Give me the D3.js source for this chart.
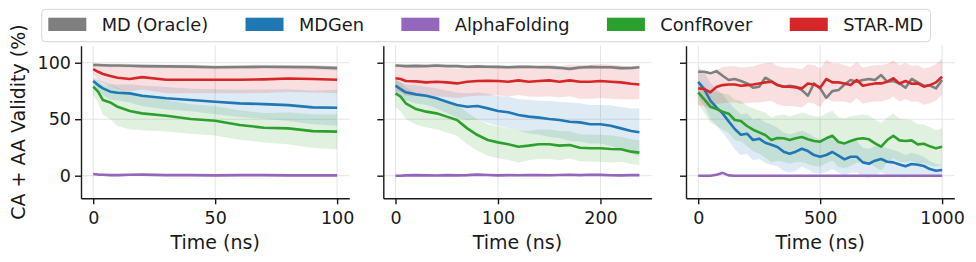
<!DOCTYPE html>
<html>
<head>
<meta charset="utf-8">
<script src="https://cdn.jsdelivr.net/npm/d3@7"></script>
<style>
  body { margin: 0; background: #fff; }
  svg { display: block; font-family: "DejaVu Sans", sans-serif; }
</style>
</head>
<body>
<svg id="chart" width="976" height="262"></svg>
<script>
'use strict';

var methods = ["MD (Oracle)", "MDGen", "AlphaFolding", "ConfRover", "STAR-MD"];
var colors  = ["#7f7f7f", "#1f77b4", "#9467bd", "#2ca02c", "#d62728"];

var yTicks = [0, 50, 100];

// ---- panel 1: 0-100 ns
var time1 = [0, 2, 4, 7, 10, 15, 20, 30, 40, 50, 60, 70, 80, 90, 100];
var xTicks1 = [0, 50, 100];
var md1     = [98, 98, 97.8, 97.6, 97.5, 97.3, 97, 96.8, 96.6, 96, 96.2, 96.4, 96.2, 96, 95.2];
var mdgen1  = [83.8, 80.2, 77.3, 74.4, 73.5, 72.9, 70.8, 68.5, 67, 65.5, 64, 63.4, 62.5, 60.5, 60.2];
var alpha1  = [1.5, 1, 0.8, 0.5, 0.5, 0.8, 1, 0.5, 0.5, 0.3, 0.5, 0.5, 0.3, 0.3, 0.3];
var conf1   = [78.8, 74.4, 67, 64.9, 61, 57.2, 55.2, 53.1, 50.2, 48.7, 44.9, 42.5, 41.9, 39.5, 39];
var star1   = [94.4, 92, 90, 88.2, 86.7, 85.6, 87.3, 85, 85, 85, 85, 85.3, 86, 85.6, 85];
var mdSd1    = [1.5, 1.5, 1.5, 1.5, 1.5, 1.6, 1.6, 1.7, 1.8, 1.8, 1.8, 1.8, 1.9, 1.9, 2];
var mdgenSd1 = [4, 5, 6, 7, 7, 8, 9, 10, 10, 11, 12, 13, 14, 15, 16];
var alphaSd1 = [1, 1, 1, 1, 1, 1, 1, 1, 1, 1, 1, 1, 1, 1, 1];
var confSd1  = [7, 10, 13, 15, 17, 16, 15, 14, 13, 13, 13, 13, 14, 15, 15.5];
var starSd1  = [5, 7, 8, 9, 10, 11, 11, 12, 12, 12, 12, 12, 12, 12, 12];

// ---- panel 2: 0-238 ns
var time2 = [0, 5, 10, 20, 30, 40, 50, 60, 70, 80, 90, 100, 110, 120, 130, 140, 150, 160, 170, 180, 190, 200, 210, 220, 230, 238];
var xTicks2 = [0, 100, 200];
var md2    = [97.5, 97.3, 97, 97.2, 97, 97.5, 97, 97, 96.5, 96.8, 96.5, 96.3, 96, 96.3, 96.5, 96, 96, 95.5, 94.6, 95.8, 96.3, 96, 96, 95.2, 95.3, 96];
var mdgen2 = [79.7, 76.7, 73.8, 72, 70.8, 68.5, 65.5, 62.6, 61.1, 61.7, 59.6, 57.3, 56.1, 53.7, 52.3, 51.4, 50.2, 49.3, 47.8, 47.2, 45.5, 45.5, 44.3, 41.9, 39.6, 38.4];
var alpha2 = [0, 0, 0.3, 0.5, 0.3, 0.2, 0.5, 0.3, 0.5, 1, 0.6, 0.3, 0.5, 0.4, 0.6, 0.5, 0.4, 0.6, 0.8, 0.5, 0.9, 0.7, 0.4, 0.3, 0.5, 0.5];
var conf2  = [72.9, 70, 64.1, 59, 56.7, 55.2, 52.3, 49.3, 41.9, 36, 31.6, 29.5, 27.8, 25.7, 26.6, 27.8, 27.8, 26.6, 27.2, 24.8, 24.3, 24.3, 23.7, 23.4, 21.3, 20.4];
var star2  = [86.2, 85.6, 83.8, 83.5, 82.6, 83.2, 82.6, 81.7, 83.2, 83.8, 84.1, 83.8, 83.2, 84.4, 83.2, 83.8, 84.4, 83.2, 84.4, 83.2, 83.2, 83.8, 83.2, 82.6, 81.4, 80.8];
var mdSd2    = [1.5, 1.5, 1.5, 1.5, 1.5, 1.5, 1.5, 1.5, 1.5, 1.5, 1.5, 1.5, 1.5, 1.5, 1.5, 1.5, 1.5, 1.5, 1.5, 1.5, 1.5, 1.5, 1.5, 1.5, 1.5, 1.5];
var mdgenSd2 = [5, 6, 7, 8, 8, 9, 10, 11, 12, 12, 13, 13, 14, 14, 15, 15, 16, 16, 17, 17, 17, 17, 18, 19, 20, 21];
var alphaSd2 = [1, 1, 1, 1, 1, 1, 1, 1, 1, 1, 1, 1, 1, 1, 1, 1, 1, 1, 1, 1, 1, 1, 1, 1, 1, 1];
var confSd2  = [12, 13, 14, 14, 14, 14, 14, 14, 14, 14, 14, 14, 14, 14, 13, 13, 13, 13, 12, 12, 12, 12, 12, 11, 11, 11];
var starSd2  = [12, 12, 13, 13, 13, 13, 13, 13, 13, 13, 13, 12.5, 13, 13, 13, 14, 14, 14, 14, 15, 15, 15, 15, 15, 14, 13];

// ---- panel 3: 0-1000 ns
var time3 = [0, 25, 50, 75, 100, 125, 150, 175, 200, 225, 250, 275, 300, 325, 350, 375, 400, 425, 450, 475, 500,
             525, 550, 575, 600, 625, 650, 675, 700, 725, 750, 775, 800, 825, 850, 875, 900, 925, 950, 975, 1000];
var xTicks3 = [0, 500, 1000];
var md3    = [92, 92, 90.6, 92.6, 88.5, 84.7, 85.6, 83.8, 81.7, 77.9, 78.8, 86.7, 83.8, 80.2, 78.8, 79.7, 78.8, 75.8, 70.8, 81.7, 77.3,
              69, 74.9, 75.8, 80.8, 84.7, 83.2, 84.7, 85.6, 84.7, 89.1, 83.2, 83.8, 81.7, 77.9, 85.6, 82.6, 79.7, 79.7, 77.3, 84.7];
var mdgen3 = [83, 76.4, 66.4, 60.5, 55.2, 48.1, 41.3, 36.3, 37.2, 31.6, 32.8, 29.2, 27.4, 25.4, 21.3, 19.5, 21.3, 23.9, 21.8, 18.3, 16.8,
              18.3, 21, 17.7, 14.5, 16.8, 16.8, 11.8, 10.6, 13.3, 14.8, 12.4, 11.8, 10, 8.3, 10.3, 9.7, 8.6, 5.9, 4.4, 5];
var alpha3 = [0, 0, 0, 0.8, 2.5, 0.3, 0, 0, 0, 0, 0, 0, 0, 0, 0, 0, 0, 0, 0, 0, 0,
              0, 0, 0, 0, 0, 0, 0, 0, 0, 0, 0, 0, 0, 0, 0, 0, 0, 0, 0, 0];
var conf3  = [73.8, 67.6, 61.1, 59, 56.7, 54.9, 49.3, 48.4, 44, 40.7, 38.4, 36, 31.6, 33.3, 33.1, 31.6, 33.1, 34.2, 32.2, 30.7, 30.1,
              33.1, 35.4, 29.8, 28.6, 30.7, 32.5, 33.1, 32.2, 28.6, 25.7, 31.6, 35.4, 31.3, 30.7, 31.3, 27.7, 28.3, 26, 24.2, 25.7];
var star3  = [77.3, 76.7, 73.8, 78.5, 80.2, 80.8, 80.8, 79.7, 80.2, 80.8, 81.7, 82.6, 83.2, 80.2, 78.8, 78.8, 78.2, 77.3, 81.7, 80.8, 77.9,
              85.6, 82.6, 82.6, 81.7, 80.2, 84.7, 79.7, 80.8, 81.7, 81.7, 83.2, 86.2, 81.7, 83.8, 81.4, 81.7, 78.8, 80.2, 82.6, 87.6];
var mdgenSd3 = [14, 15, 16, 16, 17, 17, 18, 18, 18, 18, 18, 18, 18, 17, 17, 17, 17, 16, 16, 16, 15,
                15, 15, 15, 14, 14, 14, 13, 13, 13, 12, 12, 11, 11, 10, 10, 9, 8, 7, 6, 5];
var confSd3  = [10, 12, 14, 15, 16, 17, 18, 18, 18, 19, 19, 20, 20, 20, 21, 21, 21, 22, 22, 22, 22,
                22, 22, 22, 22, 22, 21, 21, 21, 21, 21, 20, 20, 19, 19, 18, 18, 17, 17, 16, 16];
var starSd3  = [15, 15, 15, 15, 16, 16, 16, 16, 16, 16, 17, 17, 17, 17, 17, 17, 17, 17, 17, 17, 17,
                17, 17, 17, 16, 16, 16, 16, 16, 16, 16, 16, 16, 16, 16, 16, 16, 16, 16, 16, 16];

var panels = [
  { left: 81,    times: time1, xDomain: [-5, 105],     xTicks: xTicks1, yLabels: true,
    vals: [md1, mdgen1, alpha1, conf1, star1], sds: [mdSd1, mdgenSd1, alphaSd1, confSd1, starSd1] },
  { left: 383.3, times: time2, xDomain: [-11.9, 249.9], xTicks: xTicks2, yLabels: false,
    vals: [md2, mdgen2, alpha2, conf2, star2], sds: [mdSd2, mdgenSd2, alphaSd2, confSd2, starSd2] },
  { left: 686,   times: time3, xDomain: [-50, 1050],   xTicks: xTicks3, yLabels: false,
    vals: [md3, mdgen3, alpha3, conf3, star3], sds: [null, mdgenSd3, null, confSd3, starSd3] }
];

var svg = d3.select("#chart");
var axW = 268.3, axTop = 45.8, axBottom = 198.3;
var ink = "#1a1a1a";

var y = d3.scaleLinear().domain([-20, 115]).range([axBottom, axTop]);

panels.forEach(function(p) {
  var x = d3.scaleLinear().domain(p.xDomain).range([p.left, p.left + axW]);
  var g = svg.append("g");

  // grid
  g.selectAll(".gy").data(yTicks).enter().append("line")
    .attr("x1", p.left).attr("x2", p.left + axW)
    .attr("y1", function(d) { return y(d); }).attr("y2", function(d) { return y(d); })
    .attr("stroke", "#e4e4e4").attr("stroke-width", 1);
  g.selectAll(".gx").data(p.xTicks).enter().append("line")
    .attr("x1", function(d) { return x(d); }).attr("x2", function(d) { return x(d); })
    .attr("y1", axTop).attr("y2", axBottom)
    .attr("stroke", "#e4e4e4").attr("stroke-width", 1);

  // bands first, then lines
  p.vals.forEach(function(vals, i) {
    var sd = p.sds[i];
    if (!sd) return;
    var area = d3.area()
      .x(function(d, k) { return x(p.times[k]); })
      .y0(function(d, k) { return y(vals[k] - sd[k]); })
      .y1(function(d, k) { return y(vals[k] + sd[k]); });
    g.append("path").datum(vals)
      .attr("d", area)
      .attr("fill", colors[i]).attr("fill-opacity", 0.15);
  });

  p.vals.forEach(function(vals, i) {
    var line = d3.line()
      .x(function(d, k) { return x(p.times[k]); })
      .y(function(d) { return y(d); });
    g.append("path").datum(vals)
      .attr("d", line)
      .attr("fill", "none")
      .attr("stroke", colors[i]).attr("stroke-width", 2.6)
      .attr("stroke-linejoin", "round");
  });

  // axes
  var ax = g.append("g").attr("transform", "translate(0," + axBottom + ")")
    .call(d3.axisBottom(x).tickValues(p.xTicks).tickSize(6).tickSizeOuter(0).tickPadding(7.5)
      .tickFormat(d3.format("d")));
  var ay = g.append("g").attr("transform", "translate(" + p.left + ",0)")
    .call(d3.axisLeft(y).tickValues(yTicks).tickSize(6).tickSizeOuter(0).tickPadding(4)
      .tickFormat(p.yLabels ? d3.format("d") : function() { return ""; }));

  [ax, ay].forEach(function(a) {
    a.select(".domain").attr("stroke", ink).attr("stroke-width", 1.4);
    a.selectAll(".tick line").attr("stroke", ink).attr("stroke-width", 1.4);
    a.selectAll(".tick text").attr("fill", ink)
      .style("font-family", "DejaVu Sans").style("font-size", "17.5px");
  });

  svg.append("text")
    .attr("x", p.left + axW / 2).attr("y", 248.5)
    .attr("text-anchor", "middle")
    .style("font-size", "19px").attr("fill", ink)
    .text("Time (ns)");
});

svg.append("text")
  .attr("transform", "translate(24.5," + ((axTop + axBottom) / 2) + ") rotate(-90)")
  .attr("text-anchor", "middle")
  .style("font-size", "19px").attr("fill", ink)
  .text("CA + AA Validity (%)");

// legend
var leg = svg.append("g");
var box = leg.append("rect");
var lx = 48.3;
methods.forEach(function(m, i) {
  leg.append("rect")
    .attr("x", lx).attr("y", 17.7).attr("width", 38).attr("height", 13.3)
    .attr("fill", colors[i]);
  var t = leg.append("text")
    .attr("x", lx + 53.4).attr("y", 31.4)
    .style("font-size", "17.8px").attr("fill", ink)
    .text(m);
  lx = lx + 53.4 + t.node().getComputedTextLength() + 37.4;
});
var lright = lx - 37.4 + 7.3;
box.attr("x", 41.7).attr("y", 9.3).attr("width", lright - 41.7).attr("height", 32.4)
  .attr("rx", 4)
  .attr("fill", "#fff").attr("fill-opacity", 0.8)
  .attr("stroke", "#d6d6d6").attr("stroke-width", 1);
</script>
</body>
</html>
